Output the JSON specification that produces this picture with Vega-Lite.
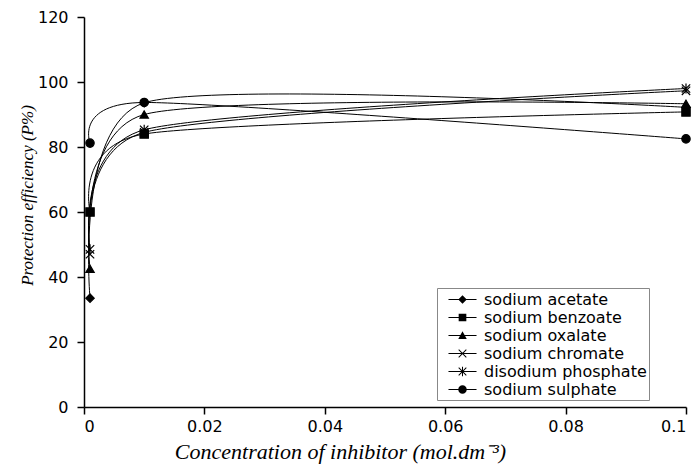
{
  "$schema": "https://vega.github.io/schema/vega-lite/v6.json",
  "width": 602,
  "height": 390,
  "autosize": {"type": "none"},
  "padding": {"left": 84, "top": 17, "right": 8, "bottom": 67},
  "background": "white",
  "config": {
    "view": {"stroke": null},
    "axis": {
      "grid": false,
      "domainColor": "black",
      "domainWidth": 1.5,
      "tickColor": "black",
      "tickWidth": 1.5,
      "tickSize": 7,
      "labelFont": "DejaVu Sans",
      "labelFontSize": 16,
      "labelColor": "black",
      "titleFont": "Liberation Serif",
      "titleFontStyle": "italic",
      "titleFontWeight": "normal",
      "titleColor": "black"
    }
  },
  "data": {
    "values": [
      {"salt": "sodium acetate", "c": 0.001, "p": 33.5},
      {"salt": "sodium acetate", "c": 0.01, "p": 93.6},
      {"salt": "sodium acetate", "c": 0.1, "p": 92.2},
      {"salt": "sodium benzoate", "c": 0.001, "p": 60},
      {"salt": "sodium benzoate", "c": 0.01, "p": 84},
      {"salt": "sodium benzoate", "c": 0.1, "p": 90.8},
      {"salt": "sodium oxalate", "c": 0.001, "p": 42.5},
      {"salt": "sodium oxalate", "c": 0.01, "p": 90},
      {"salt": "sodium oxalate", "c": 0.1, "p": 93.3},
      {"salt": "sodium chromate", "c": 0.001, "p": 47},
      {"salt": "sodium chromate", "c": 0.01, "p": 84.5},
      {"salt": "sodium chromate", "c": 0.1, "p": 97.3},
      {"salt": "disodium phosphate", "c": 0.001, "p": 48.5},
      {"salt": "disodium phosphate", "c": 0.01, "p": 85.3},
      {"salt": "disodium phosphate", "c": 0.1, "p": 98},
      {"salt": "sodium sulphate", "c": 0.001, "p": 81.2},
      {"salt": "sodium sulphate", "c": 0.01, "p": 93.7},
      {"salt": "sodium sulphate", "c": 0.1, "p": 82.5}
    ]
  },
  "encoding": {
    "x": {
      "field": "c",
      "type": "quantitative",
      "scale": {"domain": [0, 0.1], "nice": false, "zero": true},
      "axis": {
        "values": [0, 0.02, 0.04, 0.06, 0.08, 0.1],
        "format": "~g",
        "labelPadding": 4,
        "title": "Concentration of inhibitor (mol.dm⁻³)",
        "titleFontSize": 22,
        "titleX": 256,
        "titleY": 51,
        "titleAlign": "center",
        "titleBaseline": "alphabetic"
      }
    },
    "y": {
      "field": "p",
      "type": "quantitative",
      "scale": {"domain": [0, 120], "nice": false},
      "axis": {
        "values": [0, 20, 40, 60, 80, 100, 120],
        "labelPadding": 9,
        "title": "Protection efficiency (P%)",
        "titleFontSize": 17,
        "titleX": -57,
        "titleY": 178,
        "titleAngle": -90,
        "titleAlign": "center",
        "titleBaseline": "middle"
      }
    }
  },
  "layer": [
    {
      "mark": {"type": "line", "interpolate": "cardinal", "tension": 0.3, "color": "black", "strokeWidth": 1},
      "encoding": {"detail": {"field": "salt"}}
    },
    {
      "mark": {"type": "point", "filled": true, "color": "black", "size": 0},
      "encoding": {
        "shape": {
          "field": "salt",
          "type": "nominal",
          "scale": {
            "domain": ["sodium acetate", "sodium benzoate", "sodium oxalate", "sodium chromate", "disodium phosphate", "sodium sulphate"],
            "range": [
              "M-1.65,-0.06H1.65V0.06H-1.65ZM0,-0.5L0.5,0L0,0.5L-0.5,0Z",
              "M-1.65,-0.06H1.65V0.06H-1.65ZM-0.45,-0.45H0.45V0.45H-0.45Z",
              "M-1.65,-0.06H1.65V0.06H-1.65ZM0,-0.5L0.5,0.4H-0.5Z",
              "M-1.65,-0.06H1.65V0.06H-1.65ZM-0.49,-0.41L-0.41,-0.49L0.49,0.41L0.41,0.49ZM0.41,-0.49L0.49,-0.41L-0.41,0.49L-0.49,0.41Z",
              "M-1.65,-0.06H1.65V0.06H-1.65ZM-0.49,-0.41L-0.41,-0.49L0.49,0.41L0.41,0.49ZM0.41,-0.49L0.49,-0.41L-0.41,0.49L-0.49,0.41ZM-0.06,-0.55H0.06V0.55H-0.06Z",
              "M-1.65,-0.06H1.65V0.06H-1.65ZM-0.5,0A0.5,0.5,0,1,1,0.5,0A0.5,0.5,0,1,1,-0.5,0Z"
            ]
          },
          "legend": {
            "title": null,
            "orient": "none",
            "legendX": 353,
            "legendY": 271,
            "padding": 2,
            "rowPadding": 0,
            "strokeColor": "#888888",
            "fillColor": "white",
            "symbolSize": 289,
            "symbolOffset": 14,
            "labelOffset": 12,
            "symbolOpacity": 1,
            "symbolFillColor": "black",
            "labelFont": "DejaVu Sans",
            "labelFontSize": 16,
            "labelColor": "black",
            "labelLimit": 400
          }
        }
      }
    },
    {
      "mark": {"type": "point", "filled": true, "color": "black", "stroke": "black", "strokeWidth": 1.2, "size": 70, "opacity": 1},
      "encoding": {
        "shape": {
          "field": "salt",
          "type": "nominal",
          "scale": {
            "domain": ["sodium acetate", "sodium benzoate", "sodium oxalate", "sodium chromate", "disodium phosphate", "sodium sulphate"],
            "range": ["diamond", "square", "triangle-up", "M-1,-1L1,1M-1,1L1,-1", "M-1,-1L1,1M-1,1L1,-1M0,-1.2L0,1.2", "circle"]
          },
          "legend": null
        }
      }
    }
  ],
  "resolve": {"scale": {"shape": "independent"}, "legend": {"shape": "independent"}}
}
